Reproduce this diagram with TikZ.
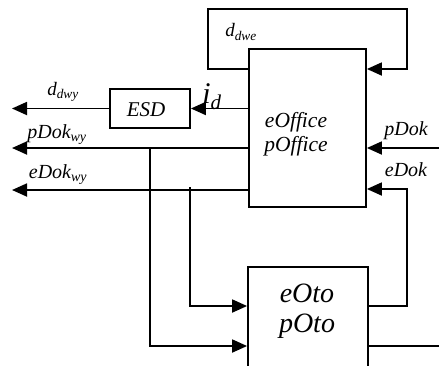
\documentclass[tikz,border=0pt]{standalone}
\usepackage{fontspec}
\setmainfont{Liberation Serif}
\usetikzlibrary{arrows.meta}

\begin{document}
\begin{tikzpicture}[x=1pt,y=-1pt,line width=1.8pt,
  box/.style={draw,rectangle,inner sep=0pt},
  arr/.style={-{Triangle[length=15pt,width=13pt]}},
  lbl/.style={inner sep=0pt,font=\itshape\fontsize{20}{22}\selectfont}]
\useasboundingbox (0,0) rectangle (439,365);
\clip (0,0) rectangle (439,365);
% blocks
\node[box,minimum width=117pt,minimum height=158pt] (office) at (307.5,128) {};
\node[box,minimum width=80pt,minimum height=39pt] (esd) at (150,108.5) {};
\node[box,minimum width=120pt,minimum height=110pt] (oto) at (308,322) {};
\node[inner sep=0pt,align=center,font=\itshape\fontsize{21.5}{23.5}\selectfont] (officetxt) at (296,134) {eOffice\\pOffice};
\node[inner sep=0pt,font=\itshape\fontsize{21}{23}\selectfont] (esdtxt) at (146,110) {ESD};
\node[inner sep=0pt,align=center,font=\itshape\fontsize{28}{30}\selectfont] (ototxt) at (307,311) {eOto\\pOto};
% free ends
\coordinate (loopl) at (208,9);
\coordinate (loopr) at (407,9);
\coordinate (dwy) at (12,108.5);
\coordinate (pwy) at (12,148);
\coordinate (ewy) at (12,190);
\coordinate (pin) at (439,148);
\coordinate (eback) at (407,189);
\coordinate (oout) at (439,346);
% connectors
\draw[arr] (office.west |- 0,69) -| (loopl) -| (loopr) |- (office.east |- 0,69);
\draw[arr] (office.west |- esd.east) -- (esd.east);
\draw[arr] (esd.west) -- (dwy);
\draw[arr] (office.west |- pwy) -- (pwy);
\draw[arr] ([xshift=1pt]office.west |- ewy) -- (ewy);
\draw[arr] (pin) -- (office.east |- pin);
\draw[arr] (oto.east |- 0,306) -| (eback) -- (office.east |- eback);
\draw (oto.east |- oout) -- (oout);
\draw[arr] (150,148) |- (oto.west |- 0,346);
\draw[arr] (190,187) |- (oto.west |- 0,306);
% labels
\node[lbl,font=\itshape\fontsize{19}{21}\selectfont] (ldwe) at (241,32) {d\textsubscript{dwe}};
\node[lbl,font=\itshape\fontsize{19}{21}\selectfont] (ldwy) at (63,92) {d\textsubscript{dwy}};
\node[lbl,font=\itshape\fontsize{30}{32}\selectfont] (lid) at (212,97) {i\textsubscript{d}};
\node[lbl] (lpwy) at (57,135) {pDok\textsubscript{wy}};
\node[lbl] (lewy) at (58,175) {eDok\textsubscript{wy}};
\node[lbl] (lpin) at (406,131) {pDok};
\node[lbl] (lein) at (406,170) {eDok};
\end{tikzpicture}
\end{document}
